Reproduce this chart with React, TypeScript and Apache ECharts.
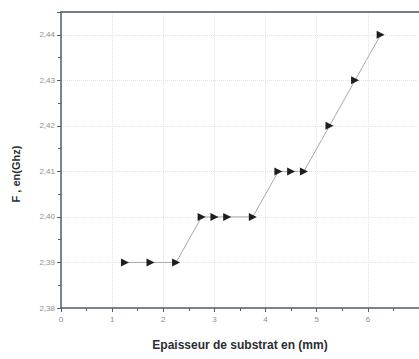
import React, { useEffect, useRef } from "react";
import * as echarts from "echarts";

const thickness = [1.25, 1.75, 2.25, 2.75, 3, 3.25, 3.75, 4.25, 4.5, 4.75, 5.25, 5.75, 6.25];
const frequency = [2.39, 2.39, 2.39, 2.40, 2.40, 2.40, 2.40, 2.41, 2.41, 2.41, 2.42, 2.43, 2.44];
const xTicks = [0, 1, 2, 3, 4, 5, 6, 7];
const yTicks = [2.38, 2.39, 2.40, 2.41, 2.42, 2.43, 2.44];

export default function App() {
  const ref = useRef<HTMLDivElement>(null);
  useEffect(() => {
    if (!ref.current) return;
    const chart = echarts.init(ref.current, null, { renderer: "svg" });
    const axisColor = "#4f6168";
    const labelStyle = { color: "#8a8f92", fontSize: 8, fontFamily: "Liberation Sans" };
    chart.setOption({
      animation: false,
      backgroundColor: "#ffffff",
      grid: { left: 61, top: 12, width: 361, height: 296 },
      xAxis: [
        {
          type: "value",
          min: xTicks[0],
          max: xTicks[xTicks.length - 1],
          interval: 1,
          name: "Epaisseur de substrat en (mm)",
          nameLocation: "middle",
          nameGap: 31,
          nameTextStyle: { fontSize: 12, fontWeight: "bold", color: "#2a2e33", fontFamily: "Liberation Sans" },
          axisLine: { lineStyle: { color: axisColor, width: 1.5 } },
          axisTick: { show: true, inside: false, length: 4, lineStyle: { color: axisColor } },
          minorTick: { show: true, splitNumber: 2, length: 3, lineStyle: { color: axisColor } },
          axisLabel: { ...labelStyle, margin: 7, showMaxLabel: false },
          splitLine: { show: true, lineStyle: { color: "#e2e4e6", type: "dotted", width: 1 } },
        },
        {
          type: "value",
          position: "top",
          min: 0,
          max: 7,
          interval: 1,
          axisLine: { show: true, onZero: false, lineStyle: { color: "#6f7f85", width: 2 } },
          axisTick: { show: false },
          axisLabel: { show: false },
          splitLine: { show: false },
        },
      ],
      yAxis: {
        type: "value",
        min: 2.38,
        max: 2.445,
        interval: 0.01,
        name: "F , en(Ghz)",
        nameLocation: "middle",
        nameGap: 40,
        nameTextStyle: { fontSize: 11, fontWeight: "bold", color: "#2a2e33", fontFamily: "Liberation Sans", padding: [0, 0, 0, -28] },
        axisLine: { show: true, lineStyle: { color: axisColor, width: 1.5 } },
        axisTick: { show: true, inside: false, length: 4, lineStyle: { color: axisColor } },
        minorTick: { show: true, splitNumber: 2, length: 3, lineStyle: { color: axisColor } },
        axisLabel: {
          ...labelStyle,
          margin: 6,
          showMaxLabel: false,
          formatter: (v: number) => {
            const r = Math.round(v * 100) / 100;
            return yTicks.some((t) => Math.abs(t - r) < 1e-9) && Math.abs(v - r) < 1e-6 ? r.toFixed(2).replace(".", ",") : "";
          },
        },
        splitLine: { show: true, lineStyle: { color: "#e2e4e6", type: "dotted", width: 1 } },
      },
      series: [
        {
          type: "line",
          data: thickness.map((x, i) => [x, frequency[i]]),
          symbol: "triangle",
          symbolRotate: -90,
          symbolSize: 8,
          itemStyle: { color: "#1e1e1e" },
          lineStyle: { color: "#a8aaac", width: 1 },
        },
      ],
    });
    return () => chart.dispose();
  }, []);
  return <div ref={ref} style={{ width: 419, height: 359, position: "absolute", left: 0, top: 0 }} />;
}
